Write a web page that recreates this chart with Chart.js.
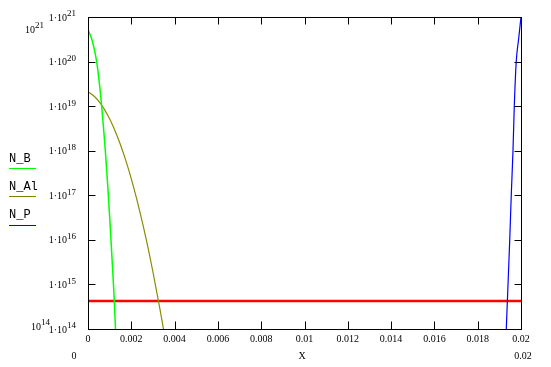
<!DOCTYPE html>
<html>
<head>
<meta charset="utf-8">
<script src="https://cdn.jsdelivr.net/npm/chart.js@4/dist/chart.umd.min.js"></script>
<style>
  html, body { margin: 0; padding: 0; background: #fff; }
  #plot { display: block; }
</style>
</head>
<body>
<canvas id="plot" width="551" height="367"></canvas>
<script>
// values
var nB_x = [0, 0.0002, 0.0004, 0.0006, 0.0008, 0.0009, 0.001, 0.0011, 0.0012, 0.00127];
var nB_y = [5.25e20, 2.9e20, 1.0e20, 1.45e19, 1.0e18, 2.0e17, 3.3e16, 4.6e15, 6.0e14, 1.0e14];

var nAl_x = [0, 0.0003, 0.0006, 0.0009, 0.0012, 0.0015, 0.0018, 0.0021, 0.0024, 0.0027, 0.0030, 0.0033, 0.003486];
var nAl_y = [2.09e19, 1.65e19, 1.11e19, 6.4e18, 3.2e18, 1.36e18, 5.0e17, 1.56e17, 4.2e16, 9.7e15, 1.9e15, 3.2e14, 1.0e14];

var nP_x = [0.01932, 0.0194, 0.01948, 0.01955, 0.01963, 0.01969, 0.01978, 0.01989, 0.02];
var nP_y = [1e14, 1e15, 1e16, 1e17, 1e18, 1e19, 1e20, 3.2e20, 1e21];

var limit_x = [0, 0.02];
var limit_y = [4.25e14, 4.25e14];

var xTickValues = [0, 0.002, 0.004, 0.006, 0.008, 0.01, 0.012, 0.014, 0.016, 0.018, 0.02];
var xTickLabels = ['0', '0.002', '0.004', '0.006', '0.008', '0.01', '0.012', '0.014', '0.016', '0.018', '0.02'];
var yTickExps = [14, 15, 16, 17, 18, 19, 20, 21];

var legendNames = ['N_B', 'N_Al', 'N_P'];
var legendColors = ['#00ff00', '#808000', '#0000ff'];

function toPoints(xs, ys) {
    var pts = [];
    for (var i = 0; i < xs.length; i++) {
        pts.push({x: xs[i], y: ys[i]});
    }
    return pts;
}

var serif = '"Liberation Serif", "Times New Roman", serif';

// box, inward ticks and the Mathcad style labels
var mathcadFrame = {
    id: 'mathcadFrame',
    afterDraw: function(chart) {
        var ctx = chart.ctx;
        var a = chart.chartArea;
        var xs = chart.scales.x, ys = chart.scales.y;
        var L = Math.floor(a.left) + 0.5, R = Math.floor(a.right) + 0.5;
        var T = Math.floor(a.top) + 0.5, B = Math.floor(a.bottom) + 0.5;
        ctx.save();
        ctx.strokeStyle = '#000';
        ctx.lineWidth = 1;
        ctx.strokeRect(L, T, R - L, B - T);

        ctx.beginPath();
        for (var i = 1; i < xTickValues.length - 1; i++) {
            var px = Math.round(xs.getPixelForValue(xTickValues[i])) + 0.5;
            ctx.moveTo(px, B); ctx.lineTo(px, B - 8);
            ctx.moveTo(px, T); ctx.lineTo(px, T + 7);
        }
        for (var j = 1; j < yTickExps.length - 1; j++) {
            var py = Math.round(ys.getPixelForValue(Math.pow(10, yTickExps[j]))) + 0.5;
            ctx.moveTo(L, py); ctx.lineTo(L + 7, py);
            ctx.moveTo(R, py); ctx.lineTo(R - 7, py);
        }
        ctx.stroke();

        ctx.fillStyle = '#000';
        ctx.font = '10px ' + serif;
        ctx.textAlign = 'center';
        ctx.textBaseline = 'middle';
        for (var k = 0; k < xTickValues.length; k++) {
            ctx.fillText(xTickLabels[k], xs.getPixelForValue(xTickValues[k]), 339);
        }
        // axis name and x limits
        ctx.fillText('X', 302, 356);
        ctx.fillText('0', 74, 356);
        ctx.fillText('0.02', 523, 356);

        // y tick labels 1·10^n
        for (var m = 0; m < yTickExps.length; m++) {
            var ty = ys.getPixelForValue(Math.pow(10, yTickExps[m]));
            drawPower(ctx, '1\u00b710', String(yTickExps[m]), 76, ty + 1);
        }
        // y limits
        drawPower(ctx, '10', '21', 44, 30);
        drawPower(ctx, '10', '14', 50, 327);

        // legend on the left
        ctx.font = '12px "Liberation Mono", "Courier New", monospace';
        ctx.textAlign = 'left';
        var rows = [159, 187, 215];
        var lines = [168.5, 196.5, 225.5];
        for (var n = 0; n < legendNames.length; n++) {
            ctx.fillStyle = '#000';
            ctx.fillText(legendNames[n], 9, rows[n]);
            ctx.strokeStyle = legendColors[n];
            ctx.beginPath();
            ctx.moveTo(9, lines[n]); ctx.lineTo(36, lines[n]);
            ctx.stroke();
        }
        ctx.restore();
    }
};

function drawPower(ctx, base, exp, rightX, y) {
    ctx.font = '9px ' + serif;
    var ew = ctx.measureText(exp).width;
    ctx.textAlign = 'left';
    ctx.textBaseline = 'middle';
    ctx.fillText(exp, rightX - ew, y - 4);
    ctx.font = '10px ' + serif;
    ctx.textAlign = 'right';
    ctx.fillText(base, rightX - ew, y);
    ctx.textAlign = 'center';
}

var ctx = document.getElementById('plot');
var myChart = new Chart(ctx, {
    type: 'line',
    data: {
        datasets: [{
            label: 'N_B',
            data: toPoints(nB_x, nB_y),
            borderColor: '#00ff00',
            borderWidth: 1.5,
            cubicInterpolationMode: 'monotone'
        }, {
            label: 'N_Al',
            data: toPoints(nAl_x, nAl_y),
            borderColor: '#8c8c00',
            borderWidth: 1.2,
            cubicInterpolationMode: 'monotone'
        }, {
            label: 'N_P',
            data: toPoints(nP_x, nP_y),
            borderColor: '#0000ff',
            borderWidth: 1.2,
            cubicInterpolationMode: 'monotone'
        }, {
            label: 'limit',
            data: toPoints(limit_x, limit_y),
            borderColor: '#ff0000',
            borderWidth: 2.5
        }]
    },
    options: {
        responsive: false,
        animation: false,
        devicePixelRatio: 1,
        layout: {
            padding: {left: 88, right: 30, top: 17, bottom: 38}
        },
        elements: {
            point: {radius: 0},
            line: {tension: 0, fill: false}
        },
        plugins: {
            legend: {display: false},
            tooltip: {enabled: false}
        },
        scales: {
            x: {
                type: 'linear',
                min: 0,
                max: 0.02,
                ticks: {display: false},
                grid: {display: false},
                border: {display: false},
                afterFit: function(s) { s.height = 0; }
            },
            y: {
                type: 'logarithmic',
                min: 1e14,
                max: 1e21,
                ticks: {display: false},
                grid: {display: false},
                border: {display: false},
                afterFit: function(s) { s.width = 0; }
            }
        }
    },
    plugins: [mathcadFrame]
});
</script>
</body>
</html>
